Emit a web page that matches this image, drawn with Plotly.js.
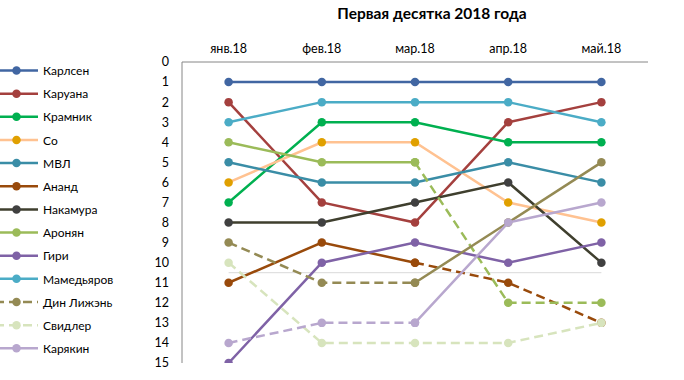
<!DOCTYPE html>
<html>
<head>
<meta charset="utf-8">
<script src="https://cdn.plot.ly/plotly-3.0.1.min.js"></script>
<style>html,body{margin:0;padding:0;background:#fff;}#chart{width:684px;height:380px;}</style>
</head>
<body>
<div id="chart"></div>
<script>
// Data
const months = ["янв.18", "фев.18", "мар.18", "апр.18", "май.18"];
const players = ["Карлсен", "Каруана", "Крамник", "Со", "МВЛ", "Ананд", "Накамура", "Аронян", "Гири", "Мамедьяров", "Дин Лижэнь", "Свидлер", "Карякин"];
const rankКарлсен = [1, 1, 1, 1, 1];
const rankКаруана = [2, 7, 8, 3, 2];
const rankКрамник = [7, 3, 3, 4, 4];
const rankСо = [6, 4, 4, 7, 8];
const rankМВЛ = [5, 6, 6, 5, 6];
const rankАнанд = [11, 9, 10, 11, 13];
const rankНакамура = [8, 8, 7, 6, 10];
const rankАронян = [4, 5, 5, 12, 12];
const rankГири = [15, 10, 9, 10, 9];
const rankМамедьяров = [3, 2, 2, 2, 3];
const rankДин = [9, 11, 11, 8, 5];
const rankСвидлер = [10, 14, 14, 14, 13];
const rankКарякин = [14, 13, 13, 8, 7];
const ranks = [rankКарлсен, rankКаруана, rankКрамник, rankСо, rankМВЛ, rankАнанд, rankНакамура, rankАронян, rankГири, rankМамедьяров, rankДин, rankСвидлер, rankКарякин];
const topCut = 10; // places beyond this are "out of the top ten"
const yTicks = [0,1,2,3,4,5,6,7,8,9,10,11,12,13,14,15];

// Styles
const lineColors = ["#4166A2", "#A4403E", "#00B050", "#FFC291", "#3A8DA6", "#994A0B", "#3F3F2E", "#9BBB59", "#7F62A6", "#4BACC6", "#948A54", "#D7E4BD", "#B8A7CE"];
const markerColors = ["#4166A2", "#A4403E", "#00B050", "#E0A000", "#3A8DA6", "#994A0B", "#404040", "#9BBB59", "#7F62A6", "#4BACC6", "#948A54", "#D7E4BD", "#B8A7CE"];
const legendDashed = [false,false,false,false,false,false,false,false,false,false,true,true,false];
const DASH = "9px,5px";
const FONT = "Lato, 'Open Sans', 'DejaVu Sans', sans-serif";

const traces = [];
players.forEach((name, p) => {
  const r = ranks[p];
  const runs = [];
  for (let i = 0; i < r.length - 1; i++) {
    const dashed = r[i + 1] > topCut;
    const last = runs[runs.length - 1];
    if (last && last.dashed === dashed) last.idx.push(i + 1);
    else runs.push({dashed: dashed, idx: [i, i + 1]});
  }
  let legendShown = false;
  runs.forEach(run => {
    const show = !legendShown && run.dashed === legendDashed[p];
    if (show) legendShown = true;
    traces.push({
      type: "scatter", mode: "lines+markers",
      x: run.idx.map(i => months[i]), y: run.idx.map(i => r[i]),
      name: name, legendgroup: name, showlegend: show,
      line: {color: lineColors[p], width: 2.5, dash: run.dashed ? DASH : "solid"},
      marker: {color: markerColors[p], size: 8.5},
      hoverinfo: "skip"
    });
  });
});

const layout = {
  width: 684, height: 380,
  margin: {l: 182, r: 36, t: 62, b: 17, autoexpand: false},
  paper_bgcolor: "#fff", plot_bgcolor: "#fff",
  font: {family: FONT, size: 11, color: "#000"},
  title: {text: "<b>Первая десятка 2018 года</b>", font: {family: FONT, size: 15.5, color: "#000"}, x: 432/684, xanchor: "center", y: 1 - 14/380, yanchor: "middle"},
  xaxis: {
    type: "category", side: "top", range: [-0.5, 4.5], automargin: false,
    showgrid: false, zeroline: false, showline: false,
    ticks: "", ticklabelstandoff: 6, tickfont: {family: FONT, size: 12.5, color: "#000"}, fixedrange: true
  },
  yaxis: {
    autorange: false, range: [15, 0], tickvals: yTicks, ticktext: yTicks.map(String), automargin: false,
    showgrid: false, zeroline: false, showline: false,
    ticks: "", ticklabelstandoff: 12, tickfont: {family: FONT, size: 12.5, color: "#000"}, fixedrange: true
  },
  shapes: [
    {type: "line", xref: "x", yref: "y", x0: 0, x1: 4, y0: topCut + 0.5, y1: topCut + 0.5, line: {color: "#D9D9D9", width: 1}, layer: "below"},
    {type: "line", xref: "paper", yref: "paper", x0: 0, x1: 1, y0: 1, y1: 1, line: {color: "#868686", width: 1}, layer: "below"},
    {type: "line", xref: "paper", yref: "paper", x0: 0, x1: 0, y0: 0, y1: 1, line: {color: "#868686", width: 1}, layer: "below"}
  ],
  legend: {
    x: (-10 - 182) / 466, xanchor: "left", y: 1 + 6 / 301, yanchor: "top",
    traceorder: "grouped", tracegroupgap: 4.15, itemwidth: 43, maxheight: 380,
    font: {family: FONT, size: 12, color: "#000"}, bgcolor: "rgba(0,0,0,0)"
  },
  showlegend: true
};

Plotly.newPlot("chart", traces, layout, {displayModeBar: false, staticPlot: true});
</script>
</body>
</html>
